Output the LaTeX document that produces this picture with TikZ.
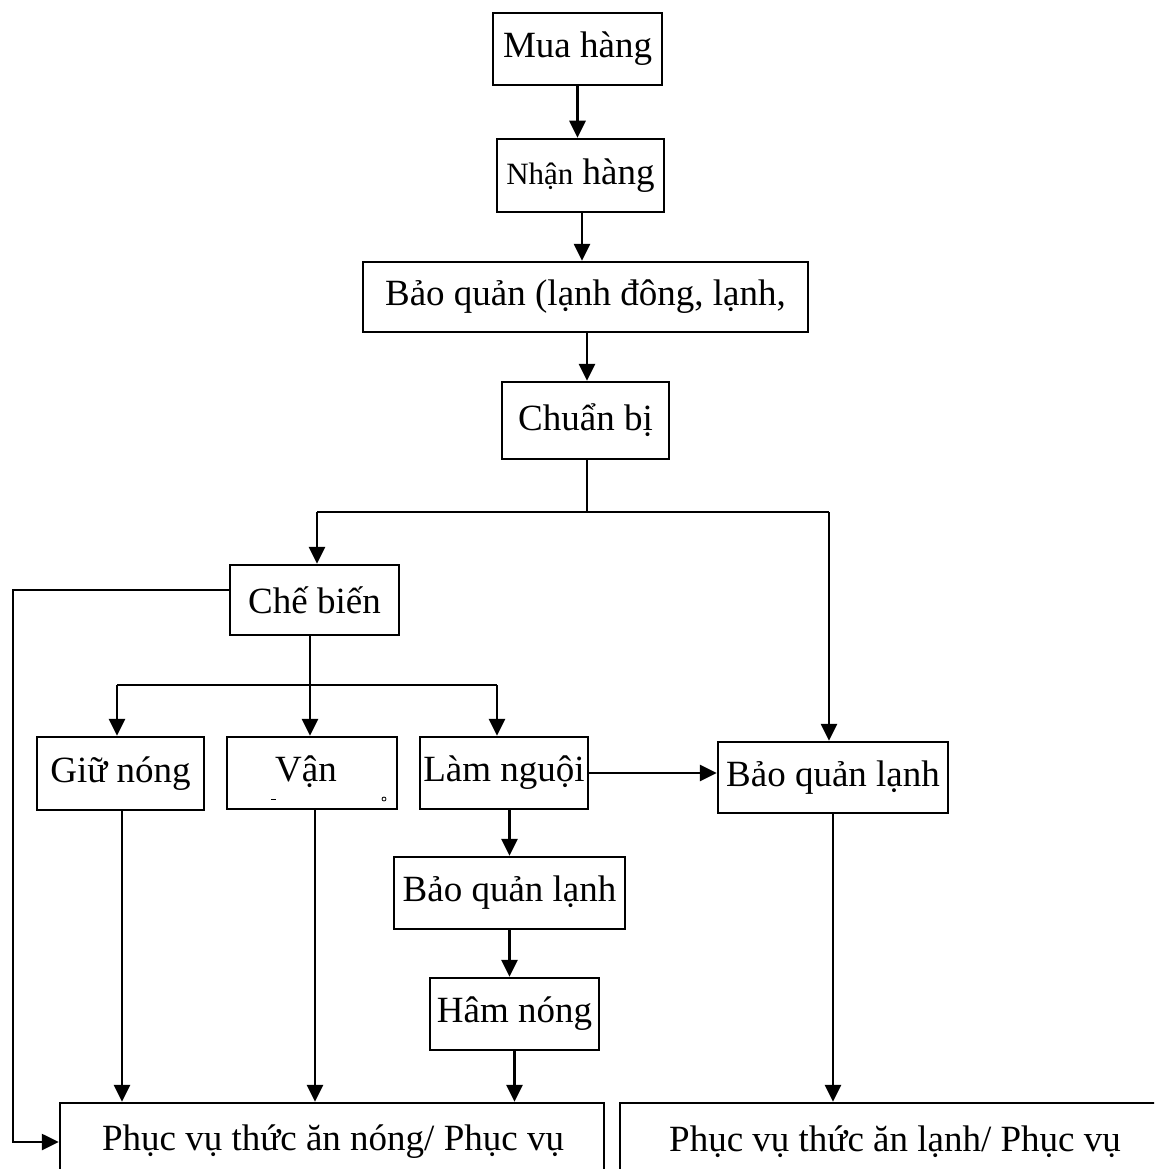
\documentclass[tikz,border=0pt]{standalone}
\usepackage{fontspec}
\setmainfont{Liberation Serif}
\usetikzlibrary{arrows.meta}

\tikzset{
  stepbox/.style={draw, line width=2.5pt, inner sep=0pt, font=\fontsize{37}{44}\selectfont},
  link/.style={line width=2.7pt},
  arr/.style={line width=2.7pt, -{Triangle[length=17pt,width=16pt]}},
  lbl/.style={inner sep=0pt, font=\fontsize{37}{44}\selectfont}
}

\begin{document}
\begin{tikzpicture}[x=1pt, y=-1pt]
  \useasboundingbox (0,0) rectangle (1154,1169);
  \clip (0,0) rectangle (1154,1169);
  \fill[white] (0,0) rectangle (1154,1169);

  % main chain
  \node[stepbox, minimum width=169pt, minimum height=72pt] (mua) at (577.5,49) {Mua hàng};
  \node[stepbox, minimum width=167pt, minimum height=73pt] (nhan) at (580.5,175.5)
    {{\fontsize{31}{40}\selectfont Nhận} hàng};
  \node[stepbox, minimum width=445pt, minimum height=70pt] (bq) at (585.5,297)
    {Bảo quản (lạnh đông, lạnh,};
  \node[stepbox, minimum width=167pt, minimum height=77pt] (cb) at (585.5,420.5) {Chuẩn bị};

  % processing branch
  \node[stepbox, minimum width=169pt, minimum height=70pt] (che) at (314.5,600) {Chế biến};
  \node[stepbox, minimum width=167pt, minimum height=73pt] (giu) at (120.5,773.5) {Giữ nóng};
  \node[stepbox, minimum width=170pt, minimum height=72pt] (van) at (312,773) {};
  \node[lbl] (vantxt) at (306,772) {Vận};
  \node[stepbox, minimum width=168pt, minimum height=72pt] (lam) at (504,773) {Làm nguội};
  \node[stepbox, minimum width=230pt, minimum height=71pt] (bql) at (833,777.5) {Bảo quản lạnh};
  \node[stepbox, minimum width=231pt, minimum height=72pt] (bqm) at (509.5,893) {Bảo quản lạnh};
  \node[stepbox, minimum width=169pt, minimum height=72pt] (ham) at (514.5,1014) {Hâm nóng};

  % serving boxes
  \node[stepbox, minimum width=544pt, minimum height=100pt] (pvn) at (332,1153) {};
  \node[lbl] (pvntxt) at (333,1142) {Phục vụ thức ăn nóng/ Phục vụ};
  \node[stepbox, minimum width=550pt, minimum height=100pt] (pvl) at (895,1153) {};
  \node[lbl] (pvltxt) at (895,1142) {Phục vụ thức ăn lạnh/ Phục vụ};

  % small marks inside the transport box
  \draw[line width=1pt] (271,799) -- (276,799);
  \draw[line width=0.8pt] (384,799) circle (2pt);

  % junction points
  \coordinate (j1) at (587,512);
  \coordinate (j1l) at (317,512);
  \coordinate (j1r) at (829,512);
  \coordinate (j2) at (310,685);
  \coordinate (j2l) at (117,685);
  \coordinate (j2r) at (497,685);
  \coordinate (lp1) at (13,590);
  \coordinate (lp2) at (13,1142);

  % connectors
  \draw[arr] (mua.south) -- (mua.south |- nhan.north);
  \draw[arr] (582,0 |- nhan.south) -- (582,0 |- bq.north);
  \draw[arr] (587,0 |- bq.south) -- (587,0 |- cb.north);
  \draw[link] (j1 |- cb.south) -- (j1);
  \draw[link] (j1l) -- (j1r);
  \draw[arr] (j1l) -- (j1l |- che.north);
  \draw[arr] (j1r) -- (j1r |- bql.north);

  \draw[arr] (che.west |- lp1) -- (lp1) -- (lp2) -- (lp2 -| pvn.west);
  \draw[link] (j2 |- che.south) -- (j2);
  \draw[link] (j2l) -- (j2r);
  \draw[arr] (j2l) -- (j2l |- giu.north);
  \draw[arr] (j2) -- (j2 |- van.north);
  \draw[arr] (j2r) -- (j2r |- lam.north);

  \draw[arr] (lam.east) -- (lam.east -| bql.west);
  \draw[arr] (bqm.north |- lam.south) -- (bqm.north);
  \draw[arr] (bqm.south) -- (bqm.south |- ham.north);
  \draw[arr] (ham.south) -- (ham.south |- pvn.north);
  \draw[arr] ([xshift=1.5pt]giu.south) -- ([xshift=1.5pt]giu.south |- pvn.north);
  \draw[arr] ([xshift=3pt]van.south) -- ([xshift=3pt]van.south |- pvn.north);
  \draw[arr] (bql.south) -- (bql.south |- pvl.north);
\end{tikzpicture}
\end{document}
